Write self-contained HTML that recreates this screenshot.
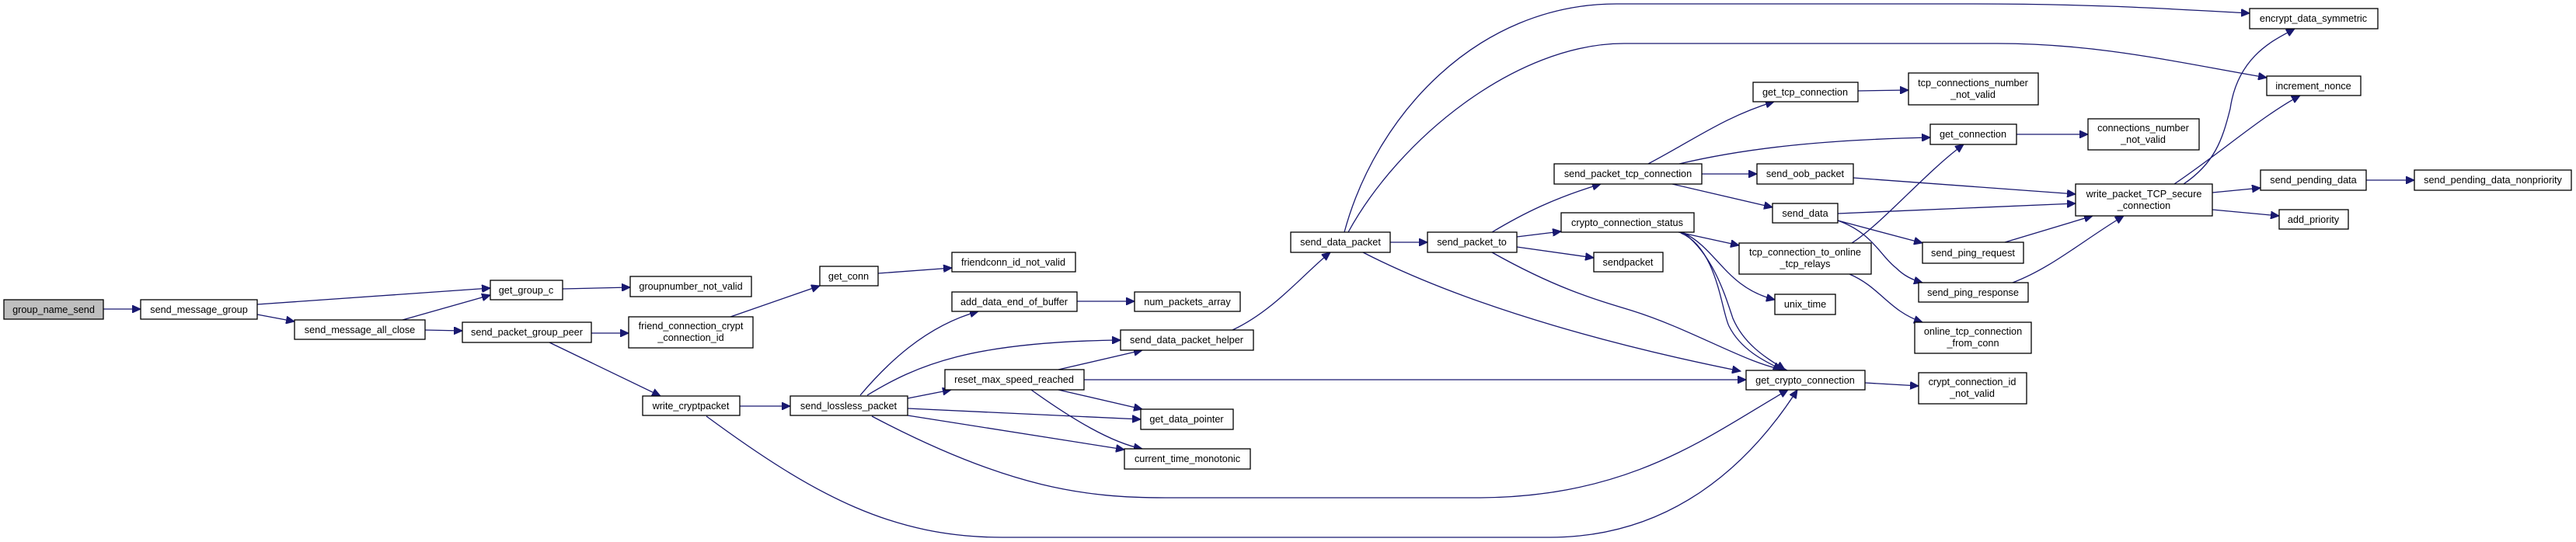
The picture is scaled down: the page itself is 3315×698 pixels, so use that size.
<!DOCTYPE html>
<html><head><meta charset="utf-8"><style>
html,body{margin:0;padding:0;background:#fff;}
svg{display:block;}
text{font-family:"Liberation Sans",Arial,sans-serif;font-size:12.7px;fill:#000;text-anchor:middle;}
.b{fill:#fff;stroke:#000;stroke-width:1.3;}
.e{fill:none;stroke:#191970;stroke-width:1.3;}
</style></head><body>
<svg width="3315" height="698" viewBox="0 0 3315 698" xmlns="http://www.w3.org/2000/svg">
<defs><marker id="a" markerUnits="userSpaceOnUse" markerWidth="12" markerHeight="10" refX="11" refY="5" orient="auto"><path d="M0,0 L11,5 L0,10 Z" fill="#191970" stroke="#191970"/></marker></defs>
<g marker-end="url(#a)">
<path class="e" d="M133,398 L181,398"/>
<path class="e" d="M331,392 L631,371"/>
<path class="e" d="M331,405 L379,414"/>
<path class="e" d="M518,412 L631,380"/>
<path class="e" d="M547,425 L595,426"/>
<path class="e" d="M724,372 L811,370"/>
<path class="e" d="M761,429 L809,429"/>
<path class="e" d="M707,441 L850,510"/>
<path class="e" d="M940,408 L1055,368"/>
<path class="e" d="M1130,352 L1225,345"/>
<path class="e" d="M952,523 L1017,523"/>
<path class="e" d="M909,536 C1050,640 1150,692 1290,692 L1994,692 C2150,692 2250,600 2313,502"/>
<path class="e" d="M1107,509 C1140,470 1190,420 1259,401"/>
<path class="e" d="M1116,509 C1180,470 1250,440 1442,438"/>
<path class="e" d="M1168,513 L1224,502"/>
<path class="e" d="M1168,526 L1468,540"/>
<path class="e" d="M1168,535 L1447,579"/>
<path class="e" d="M1122,536 C1300,630 1400,641 1500,641 L1900,641 C2100,641 2200,560 2301,502"/>
<path class="e" d="M1362,476 L1470,451"/>
<path class="e" d="M1395,489 L2247,489"/>
<path class="e" d="M1362,502 L1470,527"/>
<path class="e" d="M1327,502 C1380,540 1430,570 1470,578"/>
<path class="e" d="M1586,425 C1640,400 1680,350 1712,325"/>
<path class="e" d="M1386,388 L1460,388"/>
<path class="e" d="M1730,299 C1770,150 1900,5 2080,5 L2540,5 C2700,5 2800,12 2895,17"/>
<path class="e" d="M1735,299 C1800,180 1950,56 2090,56 L2570,56 C2700,56 2800,80 2917,100"/>
<path class="e" d="M1789,312 L1837,312"/>
<path class="e" d="M1754,325 C1900,400 2100,450 2240,478"/>
<path class="e" d="M1920,299 C1960,275 2000,255 2060,237"/>
<path class="e" d="M1952,305 L2009,298"/>
<path class="e" d="M1952,318 L2051,332"/>
<path class="e" d="M1920,325 C2000,370 2050,385 2100,400 C2180,425 2250,470 2300,477"/>
<path class="e" d="M2121,211 C2180,180 2220,150 2283,131"/>
<path class="e" d="M2161,211 C2250,190 2350,180 2484,177"/>
<path class="e" d="M2190,224 L2261,224"/>
<path class="e" d="M2152,237 L2281,267"/>
<path class="e" d="M2160,299 L2238,316"/>
<path class="e" d="M2165,299 C2210,320 2220,370 2284,386"/>
<path class="e" d="M2163,300 C2210,320 2215,400 2225,420 C2240,450 2270,465 2293,476"/>
<path class="e" d="M2168,301 C2205,330 2220,380 2230,410 C2245,445 2275,462 2297,476"/>
<path class="e" d="M2391,117 L2456,116"/>
<path class="e" d="M2595,173 L2687,173"/>
<path class="e" d="M2385,229 L2671,250"/>
<path class="e" d="M2365,275 L2671,262"/>
<path class="e" d="M2365,284 L2474,313"/>
<path class="e" d="M2365,284 C2410,300 2420,330 2440,345 C2450,355 2460,360 2474,364"/>
<path class="e" d="M2383,313 C2420,290 2480,220 2527,186"/>
<path class="e" d="M2380,353 C2420,370 2430,400 2474,415"/>
<path class="e" d="M2400,493 L2469,497"/>
<path class="e" d="M2580,312 L2693,278"/>
<path class="e" d="M2590,364 C2640,345 2680,310 2733,278"/>
<path class="e" d="M2810,237 C2850,210 2860,180 2870,140 C2880,70 2930,50 2953,37"/>
<path class="e" d="M2798,237 C2860,195 2910,150 2960,123"/>
<path class="e" d="M2847,248 L2909,242"/>
<path class="e" d="M2847,270 L2933,278"/>
<path class="e" d="M3045,232 L3107,232"/>
</g>
<g>
<rect x="5" y="386" width="128" height="25" fill="#bfbfbf" stroke="#000" stroke-width="1.3"/><text x="69" y="403">group_name_send</text>
<rect class="b" x="181" y="386" width="150" height="25"/><text x="256" y="403">send_message_group</text>
<rect class="b" x="379" y="412" width="168" height="25"/><text x="463" y="429">send_message_all_close</text>
<rect class="b" x="631" y="361" width="93" height="25"/><text x="677" y="378">get_group_c</text>
<rect class="b" x="595" y="415" width="166" height="26"/><text x="678" y="432">send_packet_group_peer</text>
<rect class="b" x="811" y="356" width="156" height="26"/><text x="889" y="373">groupnumber_not_valid</text>
<rect class="b" x="809" y="408" width="160" height="40"/><text x="889" y="424">friend_connection_crypt</text><text x="889" y="439">_connection_id</text>
<rect class="b" x="827" y="510" width="125" height="25"/><text x="889" y="527">write_cryptpacket</text>
<rect class="b" x="1055" y="343" width="75" height="25"/><text x="1092" y="360">get_conn</text>
<rect class="b" x="1017" y="510" width="151" height="25"/><text x="1092" y="527">send_lossless_packet</text>
<rect class="b" x="1225" y="325" width="159" height="25"/><text x="1304" y="342">friendconn_id_not_valid</text>
<rect class="b" x="1225" y="376" width="161" height="25"/><text x="1305" y="393">add_data_end_of_buffer</text>
<rect class="b" x="1460" y="376" width="136" height="25"/><text x="1528" y="393">num_packets_array</text>
<rect class="b" x="1442" y="425" width="171" height="26"/><text x="1527" y="442">send_data_packet_helper</text>
<rect class="b" x="1216" y="476" width="179" height="26"/><text x="1305" y="493">reset_max_speed_reached</text>
<rect class="b" x="1468" y="527" width="119" height="26"/><text x="1527" y="544">get_data_pointer</text>
<rect class="b" x="1447" y="578" width="162" height="26"/><text x="1528" y="595">current_time_monotonic</text>
<rect class="b" x="1661" y="299" width="128" height="26"/><text x="1725" y="316">send_data_packet</text>
<rect class="b" x="1837" y="299" width="115" height="26"/><text x="1894" y="316">send_packet_to</text>
<rect class="b" x="2000" y="211" width="190" height="26"/><text x="2095" y="228">send_packet_tcp_connection</text>
<rect class="b" x="2009" y="274" width="171" height="25"/><text x="2094" y="291">crypto_connection_status</text>
<rect class="b" x="2051" y="325" width="89" height="25"/><text x="2095" y="342">sendpacket</text>
<rect class="b" x="2256" y="106" width="135" height="25"/><text x="2323" y="123">get_tcp_connection</text>
<rect class="b" x="2261" y="211" width="124" height="26"/><text x="2323" y="228">send_oob_packet</text>
<rect class="b" x="2281" y="262" width="84" height="25"/><text x="2323" y="279">send_data</text>
<rect class="b" x="2238" y="313" width="170" height="40"/><text x="2323" y="329">tcp_connection_to_online</text><text x="2323" y="344">_tcp_relays</text>
<rect class="b" x="2284" y="379" width="78" height="26"/><text x="2323" y="396">unix_time</text>
<rect class="b" x="2247" y="477" width="153" height="25"/><text x="2323" y="494">get_crypto_connection</text>
<rect class="b" x="2456" y="94" width="167" height="41"/><text x="2539" y="111">tcp_connections_number</text><text x="2539" y="126">_not_valid</text>
<rect class="b" x="2484" y="160" width="111" height="26"/><text x="2539" y="177">get_connection</text>
<rect class="b" x="2687" y="153" width="143" height="40"/><text x="2758" y="169">connections_number</text><text x="2758" y="184">_not_valid</text>
<rect class="b" x="2671" y="237" width="176" height="41"/><text x="2759" y="254">write_packet_TCP_secure</text><text x="2759" y="269">_connection</text>
<rect class="b" x="2474" y="312" width="130" height="27"/><text x="2539" y="330">send_ping_request</text>
<rect class="b" x="2469" y="364" width="141" height="25"/><text x="2539" y="381">send_ping_response</text>
<rect class="b" x="2464" y="415" width="150" height="40"/><text x="2539" y="431">online_tcp_connection</text><text x="2539" y="446">_from_conn</text>
<rect class="b" x="2469" y="480" width="139" height="40"/><text x="2538" y="496">crypt_connection_id</text><text x="2538" y="511">_not_valid</text>
<rect class="b" x="2895" y="11" width="165" height="26"/><text x="2977" y="28">encrypt_data_symmetric</text>
<rect class="b" x="2917" y="98" width="121" height="25"/><text x="2977" y="115">increment_nonce</text>
<rect class="b" x="2909" y="219" width="136" height="26"/><text x="2977" y="236">send_pending_data</text>
<rect class="b" x="3107" y="219" width="202" height="26"/><text x="3208" y="236">send_pending_data_nonpriority</text>
<rect class="b" x="2933" y="270" width="89" height="25"/><text x="2977" y="287">add_priority</text>
</g>
</svg>
</body></html>
